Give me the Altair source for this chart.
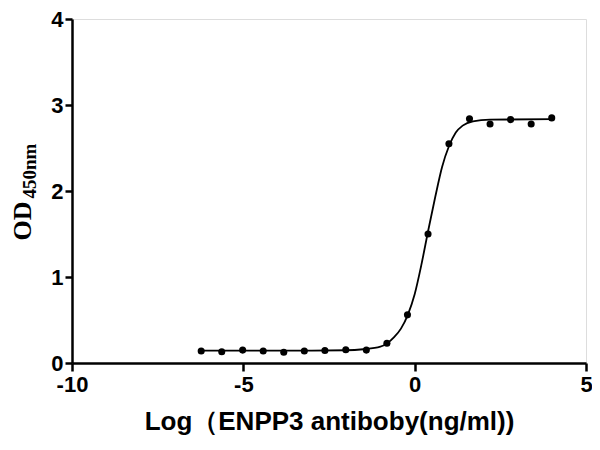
import altair as alt
import pandas as pd

# measured points (log concentration, OD450)
pt_x = [-6.23, -5.63, -5.02, -4.42, -3.82, -3.22, -2.62, -2.01, -1.41,
        -0.81, -0.21, 0.39, 1.0, 1.6, 2.2, 2.8, 3.4, 4.0]
pt_y = [0.14, 0.13, 0.15, 0.14, 0.125, 0.14, 0.145, 0.155, 0.15,
        0.23, 0.56, 1.50, 2.55, 2.84, 2.78, 2.83, 2.78, 2.85]

# fitted curve
cv_x = [-6.23, -3.0, -2.0, -1.5, -1.0, -0.8, -0.6, -0.4, -0.2, 0.0,
        0.2, 0.4, 0.6, 0.8, 1.0, 1.2, 1.4, 1.7, 2.2, 4.0]
cv_y = [0.145, 0.145, 0.148, 0.16, 0.19, 0.23, 0.30, 0.40, 0.56, 0.80,
        1.15, 1.55, 1.93, 2.28, 2.52, 2.68, 2.76, 2.81, 2.83, 2.835]

x_ticks = [-10, -5, 0, 5]
y_ticks = [0, 1, 2, 3, 4]

pts = pd.DataFrame({"x": pt_x, "y": pt_y})
curve = pd.DataFrame({"x": cv_x, "y": cv_y})

xscale = alt.Scale(domain=[-10, 5], nice=False, zero=False)
yscale = alt.Scale(domain=[0, 4], nice=False)

common = dict(grid=False, ticks=True, labelExpr="'' + datum.value",
              labelFont="Liberation Sans", labelFontWeight="bold", labelFontSize=22,
              labelColor="black", domainColor="black", domainWidth=2.5,
              tickColor="black", tickWidth=2.5, tickOpacity=1, labelFlush=False)

xaxis = alt.Axis(values=x_ticks, title="Log（ENPP3 antiboby(ng/ml))",
                 labelPadding=3, tickSize=8,
                 titleFont="Liberation Sans", titleFontWeight="bold", titleFontSize=26,
                 titleColor="black", titlePadding=13, **common)
yaxis = alt.Axis(values=y_ticks, title=None, labelPadding=2, tickSize=7, **common)

line = alt.Chart(curve).mark_line(color="black", strokeWidth=1.8, interpolate="monotone").encode(
    x=alt.X("x:Q", scale=xscale, axis=xaxis),
    y=alt.Y("y:Q", scale=yscale, axis=yaxis),
)
points = alt.Chart(pts).mark_circle(color="black", size=50, opacity=1).encode(
    x=alt.X("x:Q", scale=xscale),
    y=alt.Y("y:Q", scale=yscale),
)

od = alt.Chart(pd.DataFrame({"t": ["OD"]})).mark_text(
    font="Liberation Serif", fontWeight="bold", fontSize=26, angle=270,
    align="center", baseline="middle", color="black"
).encode(x=alt.value(-49), y=alt.value(202), text="t:N")
sub = alt.Chart(pd.DataFrame({"t": ["450nm"]})).mark_text(
    font="Liberation Serif", fontWeight="bold", fontSize=19, angle=270,
    align="center", baseline="middle", color="black"
).encode(x=alt.value(-42), y=alt.value(152), text="t:N")

chart = alt.layer(line, points, od, sub).properties(
    width=514, height=344,
    autosize=alt.AutoSizeParams(type="none"),
    padding={"left": 64, "top": 11, "right": 6, "bottom": 80},
).configure_view(stroke=None).configure(background="white")

chart.save("out.html", embed_options={"renderer": "svg", "actions": False})
